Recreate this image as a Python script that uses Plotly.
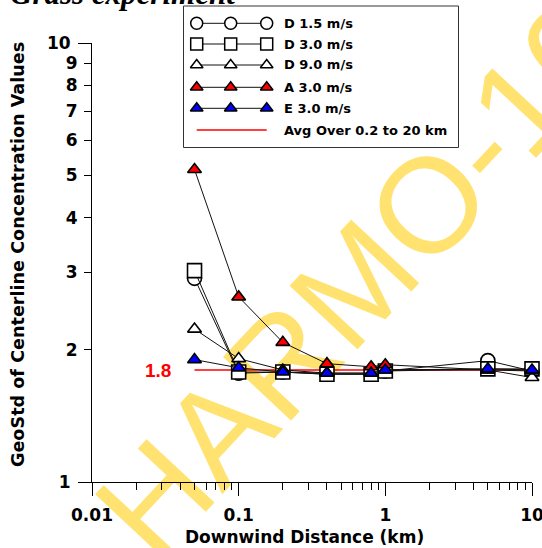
import plotly.graph_objects as go

# ---------------- data ----------------
distance_km = [0.05, 0.1, 0.2, 0.4, 0.8, 1.0, 5.0, 10.0]
d_15 = [2.91, 1.77, 1.78, 1.76, 1.76, 1.79, 1.89, 1.79]
d_30 = [3.03, 1.78, 1.78, 1.76, 1.76, 1.79, 1.81, 1.81]
d_90 = [2.23, 1.91, 1.80, 1.77, 1.77, 1.80, 1.80, 1.73]
a_30 = [5.15, 2.64, 2.08, 1.86, 1.83, 1.85, 1.80, 1.79]
e_30 = [1.90, 1.82, 1.78, 1.77, 1.77, 1.80, 1.81, 1.80]
avg_value = 1.8
avg_range_km = [0.05, 10.0]

series_names = ["D 1.5 m/s", "D 3.0 m/s", "D 9.0 m/s", "A 3.0 m/s", "E 3.0 m/s"]
series_values = [d_15, d_30, d_90, a_30, e_30]
avg_name = "Avg Over 0.2 to 20 km"

x_tickvals = [0.01, 0.1, 1, 10]
x_ticktext = ["0.01", "0.1", "1", "10"]
y_minor_vals = [2, 3, 4, 5, 6, 7, 8, 9]
y_minor_text = ["2", "3", "4", "5", "6", "7", "8", "9"]
y_major_vals = [1, 10]
y_major_text = ["1", "10"]
x_minor = [m * d for d in (0.01, 0.1, 1) for m in range(2, 10)]

# ---------------- styles ----------------
W, H = 542, 548
symbols = ["circle", "square", "triangle-up", "triangle-up", "triangle-up"]
fills = ["white", "white", "white", "#ff0000", "#0000ff"]
sizes = [14, 14, 12, 12, 12]
leg_sizes = [12, 12, 11, 11, 11]
BOLD = dict(family="DejaVu Sans", weight="bold", color="black")

# plot area in pixels
PL, PR, PT, PB = 92, 532, 43, 482

fig = go.Figure()

# average line (on the base y axis, drawn underneath)
fig.add_trace(go.Scatter(
    x=avg_range_km, y=[avg_value, avg_value], mode="lines", yaxis="y",
    line=dict(color="#ff0000", width=1.5), showlegend=False, hoverinfo="skip"))

# series (on the overlaying y3 axis with identical range, drawn on top)
for name, vals, sym, fc, sz in zip(series_names, series_values, symbols, fills, sizes):
    fig.add_trace(go.Scatter(
        x=distance_km, y=vals, mode="lines+markers", name=name, yaxis="y3",
        line=dict(color="#111111", width=1),
        marker=dict(symbol=sym, size=sz, color=fc, line=dict(color="black", width=1.6)),
        cliponaxis=False, showlegend=False))

# ---------- custom legend on a pixel overlay axis ----------
leg_rows = [23.3, 44, 65, 87.3, 108.3, 130]
leg_mx = [196.7, 230.7, 266.7]
for i, (name, sym, fc, sz) in enumerate(zip(series_names, symbols, fills, leg_sizes)):
    fig.add_trace(go.Scatter(
        x=leg_mx, y=[leg_rows[i]] * 3, xaxis="x2", yaxis="y2",
        mode="lines+markers", line=dict(color="#111111", width=1),
        marker=dict(symbol=sym, size=sz, color=fc, line=dict(color="black", width=1.5)),
        cliponaxis=False, showlegend=False, hoverinfo="skip"))
fig.add_trace(go.Scatter(
    x=[leg_mx[0], leg_mx[-1]], y=[leg_rows[5]] * 2, xaxis="x2", yaxis="y2",
    mode="lines", line=dict(color="#ff0000", width=1.5), showlegend=False, hoverinfo="skip"))


def px_x(px):
    return px / W


def px_y(py):
    return 1 - py / H


annotations = []
for i, name in enumerate(series_names + [avg_name]):
    annotations.append(dict(x=px_x(281.5), y=px_y(leg_rows[i]), xref="paper", yref="paper",
                            text=name, showarrow=False, xanchor="left", yanchor="middle",
                            font=dict(size=13, **BOLD)))

shapes = [
    dict(type="rect", xref="paper", yref="paper", x0=px_x(183.5), x1=px_x(458.5),
         y0=px_y(6), y1=px_y(147.5),
         line=dict(color="#333333", width=1), fillcolor="rgba(0,0,0,0)", layer="above"),
    # watermark
    dict(type="rect", xref="paper", yref="paper", x0=px_x(300), x1=px_x(400),
         y0=px_y(320), y1=px_y(220),
         line=dict(width=0), fillcolor="rgba(0,0,0,0)", layer="below",
         label=dict(text="HARMO-10", textangle=-47, textposition="middle center",
                    font=dict(family="Liberation Sans", size=135, color="#ffe270"))),
]

# axis titles, value label, title
annotations += [
    dict(x=px_x(304.5), y=px_y(537), xref="paper", yref="paper",
         text="Downwind Distance (km)",
         showarrow=False, xanchor="center", yanchor="middle", font=dict(size=17, **BOLD)),
    dict(x=px_x(18), y=px_y(255), xref="paper", yref="paper",
         text="GeoStd of Centerline Concentration Values",
         showarrow=False, textangle=-90, xanchor="center", yanchor="middle",
         font=dict(size=17.6, **BOLD)),
    dict(x=px_x(172.5), y=px_y(370), xref="paper", yref="paper", text="1.8", showarrow=False,
         xanchor="right", yanchor="middle",
         font=dict(family="Liberation Sans", weight="bold", size=19, color="#ff0000")),
    dict(x=px_x(8), y=px_y(-7), xref="paper", yref="paper", text="Grass experiment",
         showarrow=False, xanchor="left", yanchor="middle",
         font=dict(family="Liberation Serif", weight="bold", style="italic", size=31,
                   color="black")),
]

ydomain = [(H - PB) / H, (H - PT) / H]
fig.update_layout(
    width=W, height=H, margin=dict(l=0, r=0, t=0, b=0, pad=0, autoexpand=False),
    paper_bgcolor="white", plot_bgcolor="rgba(0,0,0,0)", showlegend=False,
    xaxis=dict(type="log", range=[-2, 1], domain=[PL / W, PR / W], anchor="y",
               automargin=False, ticklabeloverflow="allow", ticklabelstandoff=5,
               showgrid=False, zeroline=False, showline=True, linecolor="black", linewidth=1,
               tickvals=x_tickvals, ticktext=x_ticktext, ticks="outside", ticklen=13,
               tickwidth=1, tickcolor="black", tickfont=dict(size=17, **BOLD),
               minor=dict(tickvals=x_minor, ticks="outside", ticklen=7, tickwidth=1,
                          tickcolor="black", showgrid=False)),
    yaxis=dict(type="log", range=[0, 1], domain=ydomain, anchor="x",
               automargin=False, ticklabelstandoff=3,
               showgrid=False, zeroline=False, showline=True, linecolor="black", linewidth=1,
               tickvals=y_minor_vals, ticktext=y_minor_text, ticks="outside", ticklen=7,
               tickwidth=1, tickcolor="black", tickfont=dict(size=17, **BOLD)),
    yaxis3=dict(type="log", range=[0, 1], overlaying="y", anchor="x", side="left",
                automargin=False, ticklabelstandoff=4,
                showgrid=False, zeroline=False, showline=False,
                tickvals=y_major_vals, ticktext=y_major_text,
                ticks="outside", ticklen=13, tickwidth=1, tickcolor="black",
                tickfont=dict(size=17, **BOLD)),
    xaxis2=dict(range=[0, W], domain=[0, 1], anchor="y2", visible=False, fixedrange=True,
                automargin=False),
    yaxis2=dict(range=[H, 0], domain=[0, 1], anchor="x2", visible=False, fixedrange=True,
                automargin=False),
    annotations=annotations, shapes=shapes,
)

fig.write_html("out.html")
